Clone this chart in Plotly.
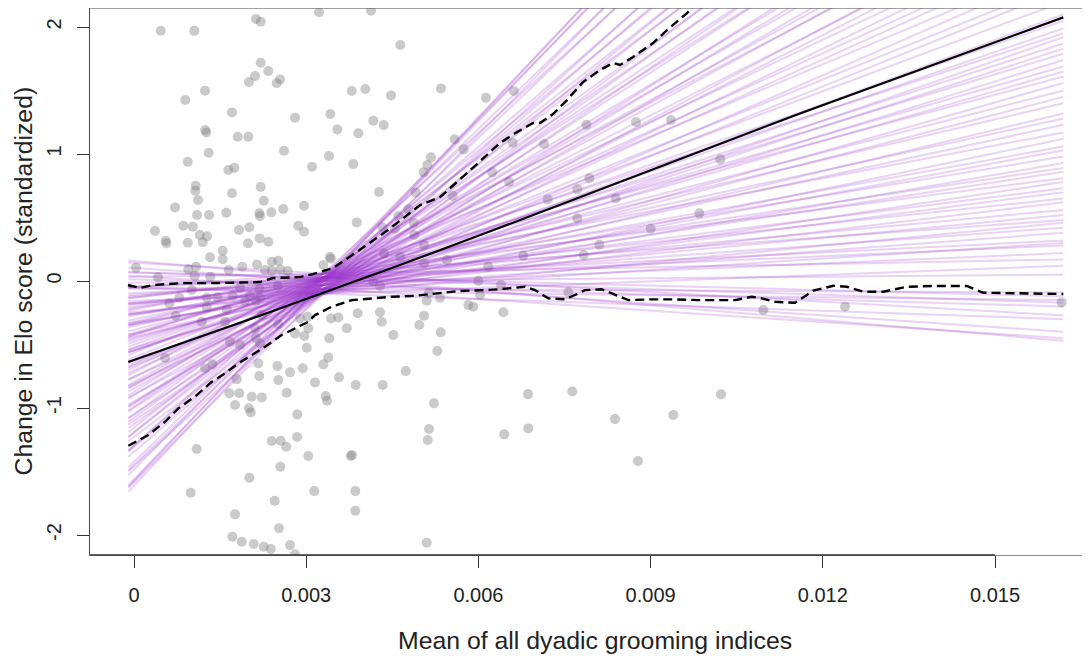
import plotly.graph_objects as go

# ---- observed data: mean dyadic grooming index vs. change in Elo score ----
groom = [
    0.000465, 0.00105, 0.002125, 0.002207, 0.002207, 0.00234, 0.002108, 0.002003, 0.002544, 0.002486,
    0.001237, 0.000894, 0.001707, 0.002805, 0.00124, 0.00126, 0.001807, 0.001991, 0.001301, 0.002613,
    0.000936, 0.001643, 0.001747, 0.001075, 0.001068, 0.001115, 0.001707, 0.002207, 0.00226, 0.000714,
    0.001098, 0.001307, 0.001608, 0.002183, 0.002195, 0.002392, 0.002601, 0.002962, 0.000366, 0.000859,
    0.001023, 0.001145, 0.001272, 0.001197, 0.001829, 0.002009, 0.002862, 0.002962, 0.000552, 0.000563,
    0.000936, 0.001986, 0.00219, 0.00234, 0.001545, 0.001545, 0.001324, 0.002399, 0.002514, 0.000035,
    0.000946, 0.00108, 0.00165, 0.001887, 0.002143, 0.002282, 0.002399, 0.002549, 0.002678, 0.000418,
    0.001057, 0.001329, 0.001005, 0.000789, 0.000615, 0.001267, 0.001451, 0.00172, 0.001847, 0.002021,
    0.002183, 0.002195, 0.002503, 0.000726, 0.001267, 0.001615, 0.001934, 0.002125, 0.001179, 0.001585,
    0.002225, 0.002514, 0.002892, 0.003026, 0.002108, 0.002125, 0.002195, 0.001672, 0.001847, 0.002805,
    0.002967, 0.003009, 0.00054, 0.001237, 0.001364, 0.002166, 0.002497, 0.002718, 0.002939, 0.002183,
    0.002514, 0.001789, 0.00166, 0.001834, 0.002051, 0.002225, 0.00266, 0.00176, 0.002003, 0.002033,
    0.002845, 0.002399, 0.002556, 0.002653, 0.00284, 0.003037, 0.001092, 0.002549, 0.002009, 0.000988,
    0.002451, 0.00176, 0.002526, 0.001713, 0.001876, 0.002085, 0.00226, 0.002382, 0.002718, 0.002805,
    0.003223, 0.004129, 0.004639, 0.003793, 0.00403, 0.004477, 0.005348, 0.006132, 0.00342, 0.003542,
    0.003908, 0.004169, 0.00435, 0.005587, 0.005744, 0.003397, 0.003101, 0.003821, 0.005174, 0.00511,
    0.005047, 0.004268, 0.004908, 0.005552, 0.004779, 0.004605, 0.00388, 0.004326, 0.004547, 0.004873,
    0.004883, 0.005052, 0.00341, 0.00343, 0.003298, 0.004355, 0.004639, 0.005052, 0.005453, 0.006172,
    0.005998, 0.006028, 0.004169, 0.004286, 0.005139, 0.005099, 0.005331, 0.005824, 0.005911, 0.003897,
    0.004286, 0.004315, 0.003432, 0.003559, 0.003037, 0.003706, 0.003402, 0.00497, 0.005052, 0.004517,
    0.005343, 0.005284, 0.003385, 0.003298, 0.003153, 0.003571, 0.003862, 0.004333, 0.004733, 0.00334,
    0.003362, 0.005226, 0.005139, 0.005117, 0.003775, 0.003798, 0.003141, 0.003855, 0.003855, 0.005099,
    0.006615, 0.00788, 0.008746, 0.009355, 0.006597, 0.007143, 0.006242, 0.006533, 0.007932, 0.007723,
    0.010214, 0.007207, 0.008392, 0.007723, 0.009848, 0.009002, 0.008106, 0.007834, 0.006782, 0.006394,
    0.007566, 0.006434, 0.010963, 0.006864, 0.007636, 0.010226, 0.006451, 0.006869, 0.00838, 0.009395,
    0.00878, 0.012387, 0.016162,
]
elo = [
    1.971, 1.970, 2.063, 2.042, 1.719, 1.654, 1.614, 1.567, 1.588, 1.557,
    1.498, 1.425, 1.328, 1.286, 1.19, 1.17, 1.136, 1.136, 1.010, 1.026,
    0.939, 0.874, 0.892, 0.750, 0.711, 0.638, 0.691, 0.740, 0.632, 0.580,
    0.520, 0.520, 0.538, 0.533, 0.512, 0.541, 0.567, 0.593, 0.394, 0.435,
    0.428, 0.362, 0.352, 0.305, 0.402, 0.423, 0.435, 0.388, 0.317, 0.297,
    0.302, 0.297, 0.336, 0.309, 0.239, 0.171, 0.187, 0.152, 0.160, 0.105,
    0.092, 0.113, 0.087, 0.113, 0.131, 0.087, 0.081, 0.092, 0.079, 0.029,
    0.039, 0.034, -0.071, -0.131, -0.176, -0.131, -0.128, -0.116, -0.053, -0.118,
    -0.063, -0.131, -0.039, -0.273, -0.207, -0.223, -0.157, -0.155, -0.320, -0.320,
    -0.268, -0.341, -0.294, -0.281, -0.372, -0.451, -0.491, -0.478, -0.504, -0.412,
    -0.433, -0.525, -0.604, -0.687, -0.656, -0.648, -0.669, -0.719, -0.687, -0.748,
    -0.780, -0.774, -0.884, -0.884, -0.911, -0.916, -0.880, -0.976, -1.002, -1.034,
    -1.050, -1.260, -1.257, -1.305, -1.228, -1.378, -1.323, -1.462, -1.549, -1.667,
    -1.730, -1.837, -1.947, -2.013, -2.053, -2.071, -2.092, -2.110, -2.079, -2.152,
    2.116, 2.128, 1.858, 1.496, 1.512, 1.462, 1.517, 1.443, 1.315, 1.194,
    1.163, 1.262, 1.228, 1.116, 1.037, 0.984, 0.900, 0.921, 0.974, 0.913,
    0.856, 0.701, 0.698, 0.672, 0.565, 0.512, 0.462, 0.423, 0.412, 0.459,
    0.362, 0.283, 0.19, 0.175, 0.126, 0.218, 0.191, 0.139, 0.165, 0.113,
    0.000, -0.110, -0.006, -0.039, -0.092, -0.155, -0.131, -0.189, -0.202, -0.254,
    -0.246, -0.320, -0.294, -0.286, -0.372, -0.372, -0.451, -0.346, -0.273, -0.425,
    -0.404, -0.551, -0.601, -0.656, -0.798, -0.758, -0.819, -0.819, -0.709, -0.906,
    -0.943, -0.963, -1.165, -1.252, -1.378, -1.370, -1.654, -1.654, -1.809, -2.061,
    1.496, 1.231, 1.252, 1.268, 1.089, 1.079, 0.856, 0.782, 0.809, 0.722,
    0.958, 0.643, 0.651, 0.494, 0.533, 0.412, 0.286, 0.205, 0.199, -0.031,
    -0.089, -0.246, -0.228, -0.890, -0.869, -0.892, -1.207, -1.160, -1.087, -1.055,
    -1.417, -0.202, -0.168,
]

# ---- posterior regression lines: predicted value at min and max grooming index ----
line_x = [-0.0001, 0.01619]
post_left = [
    0.162, 0.043, 0.106, -0.047, 0.147, 0.015, 0.070, -0.061, 0.070, -0.052,
    -0.013, -0.158, 0.031, -0.096, -0.049, -0.180, -0.046, -0.176, -0.111, -0.247,
    -0.051, -0.175, -0.123, -0.265, -0.134, -0.261, -0.193, -0.332, -0.138, -0.265,
    -0.210, -0.347, -0.221, -0.348, -0.280, -0.422, -0.233, -0.363, -0.313, -0.449,
    -0.332, -0.459, -0.396, -0.538, -0.349, -0.474, -0.421, -0.560, -0.435, -0.559,
    -0.494, -0.633, -0.439, -0.563, -0.516, -0.655, -0.543, -0.683, -0.620, -0.773,
    -0.584, -0.724, -0.675, -0.827, -0.701, -0.842, -0.779, -0.918, -0.742, -0.870,
    -0.820, -0.972, -0.846, -0.987, -0.924, -1.076, -0.901, -1.028, -0.991, -1.131,
    -1.018, -1.158, -1.109, -1.261, -1.086, -1.226, -1.189, -1.342, -1.229, -1.383,
    -1.333, -1.499, -1.336, -1.490, -1.467, -1.630, -1.530, -1.610, -1.620, -1.660,
]
post_right = [
    -0.47, -0.45, -0.40, -0.30, -0.27, -0.20, -0.17, -0.15, -0.12, -0.09,
    0.05, 0.12, 0.17, 0.22, 0.28, 0.30, 0.32, 0.38, 0.42, 0.46,
    0.48, 0.52, 0.56, 0.62, 0.65, 0.70, 0.73, 0.78, 0.81, 0.86,
    0.89, 0.93, 0.98, 1.03, 1.06, 1.12, 1.17, 1.23, 1.28, 1.32,
    1.40, 1.45, 1.50, 1.56, 1.61, 1.65, 1.69, 1.74, 1.79, 1.83,
    1.87, 1.92, 1.95, 1.99, 2.05, 2.10, 2.20, 2.30, 2.35, 2.45,
    2.50, 2.60, 2.65, 2.75, 2.80, 2.90, 2.95, 3.00, 3.10, 3.15,
    3.20, 3.30, 3.35, 3.45, 3.50, 3.60, 3.70, 3.75, 3.85, 3.90,
    4.00, 4.10, 4.20, 4.30, 4.40, 4.50, 4.60, 4.70, 4.80, 4.95,
    5.05, 5.20, 5.35, 5.50, 5.65, 5.80, 5.95, 6.05, 6.15, 6.20,
]

# ---- posterior mean line ----
mean_x = [-0.0001, 0.002312, 0.004634, 0.006115, 0.011603, 0.01619]
mean_y = [-0.638, -0.254, 0.126, 0.376, 1.320, 2.076]

# ---- compatibility interval bounds ----
upper_x = [
    -0.000105, 0.000105, 0.000331, 0.000854, 0.001446, 0.002195, 0.002422, 0.002892, 0.003118, 0.003467,
    0.00385, 0.004425, 0.004983, 0.005331, 0.005801, 0.006376, 0.006672, 0.006951, 0.007073, 0.0073,
    0.007544, 0.007822, 0.008118, 0.008345, 0.008467, 0.008693, 0.009042, 0.009286, 0.009634, 0.009861,
]
upper_y = [
    -0.031, -0.055, -0.031, -0.016, -0.016, -0.008, 0.024, 0.031, 0.055, 0.102,
    0.220, 0.402, 0.598, 0.661, 0.850, 1.087, 1.173, 1.244, 1.244, 1.315,
    1.425, 1.567, 1.661, 1.717, 1.701, 1.764, 1.874, 1.976, 2.110, 2.22,
]
lower_x = [
    -0.000099, 0.000249, 0.00054, 0.000772, 0.001092, 0.001354, 0.001585, 0.001817, 0.002051, 0.002282,
    0.002573, 0.002862, 0.003037, 0.003153, 0.003444, 0.003793, 0.004141, 0.00449, 0.004895, 0.005301,
    0.00565, 0.006115, 0.006347, 0.006812, 0.006986, 0.007218, 0.007509, 0.007683, 0.007857, 0.008148,
    0.00838, 0.008611, 0.009019, 0.009368, 0.009831, 0.01047, 0.010761, 0.010935, 0.011167, 0.011516,
    0.011834, 0.012183, 0.012416, 0.012706, 0.013054, 0.013462, 0.013925, 0.014507, 0.014796, 0.015319,
    0.01619,
]
lower_y = [
    -1.297, -1.213, -1.108, -1.002, -0.898, -0.793, -0.727, -0.648, -0.583, -0.517,
    -0.425, -0.360, -0.320, -0.268, -0.202, -0.150, -0.136, -0.124, -0.116, -0.097,
    -0.079, -0.071, -0.065, -0.045, -0.071, -0.136, -0.144, -0.110, -0.071, -0.065,
    -0.110, -0.150, -0.144, -0.144, -0.150, -0.150, -0.124, -0.136, -0.163, -0.171,
    -0.076, -0.037, -0.045, -0.084, -0.084, -0.045, -0.039, -0.039, -0.092, -0.097,
    -0.102,
]

x_ticks = [0, 0.003, 0.006, 0.009, 0.012, 0.015]
x_tick_labels = ["0", "0.003", "0.006", "0.009", "0.012", "0.015"]
y_ticks = [-2, -1, 0, 1, 2]
y_tick_labels = ["-2", "-1", "0", "1", "2"]
x_range = [-0.000767, 0.016655]
y_range = [-2.157, 2.150]

FONT = "Liberation Sans, Arial, Helvetica, sans-serif"
PLOT_H = 547  # plot area height in px

fig = go.Figure()
fig.add_trace(go.Scatter(
    x=groom, y=elo, mode="markers",
    marker=dict(size=10, color="rgba(128,128,128,0.42)", line=dict(width=0)),
    hoverinfo="skip", showlegend=False,
))
for lv, rv in zip(post_left, post_right):
    fig.add_trace(go.Scatter(
        x=line_x, y=[lv, rv], mode="lines",
        line=dict(color="rgba(153,50,204,0.22)", width=2),
        hoverinfo="skip", showlegend=False,
    ))
fig.add_trace(go.Scatter(x=mean_x, y=mean_y, mode="lines",
                         line=dict(color="black", width=2.2), showlegend=False))
for xs, ys in [(upper_x, upper_y), (lower_x, lower_y)]:
    fig.add_trace(go.Scatter(x=xs, y=ys, mode="lines",
                             line=dict(color="black", width=2.4, dash="9px,5px"),
                             showlegend=False))

fig.update_layout(
    width=1082, height=650,
    margin=dict(l=82, r=0, t=0, b=103, autoexpand=False),
    paper_bgcolor="white", plot_bgcolor="white",
    font=dict(family=FONT, color="#222", size=20),
    xaxis=dict(
        range=x_range, tickvals=x_ticks, ticktext=x_tick_labels,
        ticks="outside", ticklen=12, tickwidth=1, tickcolor="#333",
        showline=True, linecolor="#888", linewidth=1,
        showgrid=False, zeroline=False, automargin=False,
        tickfont=dict(family=FONT, size=20, color="#222"),
        ticklabelstandoff=10,
    ),
    yaxis=dict(
        range=y_range, tickvals=y_ticks, ticktext=y_tick_labels,
        ticks="outside", ticklen=12, tickwidth=1, tickcolor="#333",
        showline=True, linecolor="#444", linewidth=1,
        showgrid=False, zeroline=False, tickangle=-90, automargin=False,
        tickfont=dict(family=FONT, size=20, color="#222"),
        ticklabelstandoff=8,
    ),
    shapes=[
        dict(type="line", xref="paper", yref="paper", x0=0, x1=1, y0=1, y1=1,
             line=dict(color="#444", width=1)),
        dict(type="line", xref="x", yref="paper", x0=x_range[0], x1=x_ticks[-1], y0=0, y1=0,
             line=dict(color="#333", width=1.3)),
    ],
    annotations=[
        dict(text="Mean of all dyadic grooming indices", xref="paper", yref="paper",
             x=0.505, y=-85 / PLOT_H, xanchor="center", yanchor="middle", showarrow=False,
             font=dict(family=FONT, size=24.8, color="#222")),
        dict(text="Change in Elo score (standardized)", xref="paper", yref="paper",
             x=-67 / 1000, y=0.5, xanchor="center", yanchor="middle", showarrow=False,
             textangle=-90, font=dict(family=FONT, size=24.8, color="#222")),
    ],
)

fig.write_html("out.html")
